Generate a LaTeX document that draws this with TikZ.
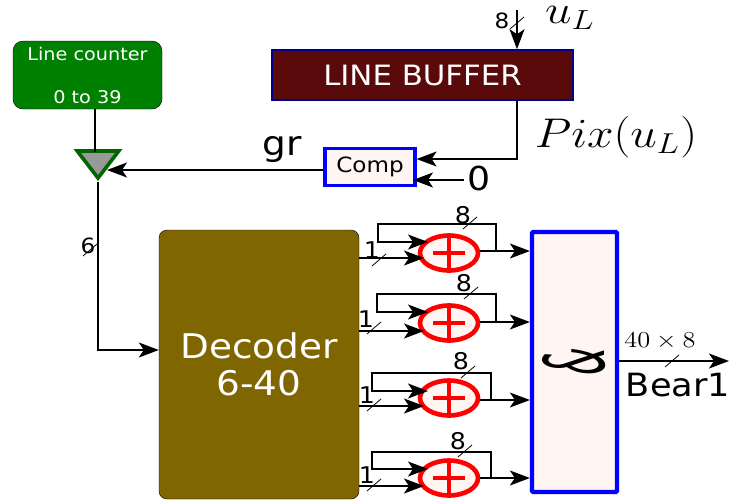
\documentclass[tikz,border=0pt]{standalone}
\usepackage{amsmath,amssymb}
\usepackage[no-math]{fontspec}
\setmainfont[FakeStretch=1.1]{DejaVu Sans}
\usepackage{tikz}
\usetikzlibrary{shapes,arrows.meta,positioning,calc}
\definecolor{bufcol}{RGB}{90,10,10}
\definecolor{deccol}{RGB}{128,102,0}
\definecolor{pinkcol}{RGB}{255,245,242}
\newcommand{\fsz}[1]{\fontsize{#1}{#1}\selectfont}
\newcommand{\slashmark}[1]{\draw[line width=0.8pt] ($(#1)+(-7,6)$) -- ($(#1)+(7,-6)$);}
\tikzset{
	sig/.style={line width=1.3pt, -{Stealth[length=20pt,width=15pt,inset=5pt]}},
	wire/.style={line width=1.3pt},
	adder/.style={ellipse, draw=red, line width=4.6pt, fill=pinkcol, minimum width=58pt, minimum height=35pt, inner sep=0pt},
	bluebox/.style={draw=blue, fill=pinkcol, inner sep=0pt}
}
\begin{document}
\begin{tikzpicture}[x=1pt,y=-1pt]
	\useasboundingbox (0,0) rectangle (732,501);
	% blocks
	\node[draw=black, fill=green!50!black, text=white, rounded corners=10pt, minimum width=149pt, minimum height=68pt, inner sep=0pt, align=center, font=\fsz{17.5}] (counter) at (87.5,75) {Line counter\\[25.5pt]0 to 39};
	\node[draw=blue!55!black, line width=1.6pt, fill=bufcol, text=white, minimum width=301pt, minimum height=50pt, inner sep=0pt, font=\fsz{28}] (buffer) at (422.5,75) {LINE BUFFER};
	\node[bluebox, line width=3.2pt, minimum width=90pt, minimum height=37pt, font=\fsz{21}] (comp) at (370,167) {Comp};
	\node[isosceles triangle, isosceles triangle apex angle=75, shape border rotate=270, draw=green!40!black, line width=3.6pt, fill=gray!80, minimum height=27pt, inner sep=0pt, anchor=apex] (mux) at (98,181) {};
	\node[draw=black, fill=deccol, text=white, rounded corners=8pt, minimum width=200pt, minimum height=269pt, inner sep=0pt, align=center, font=\fsz{34}] (decoder) at (259,364.5) {Decoder\\[3pt]6-40};
	\node[bluebox, line width=4.2pt, rounded corners=1pt, minimum width=85pt, minimum height=260pt] (concat) at (574.5,362) {\scalebox{2.2}[0.85]{\rotatebox{90}{\fsz{38}\itshape\&}}};
	% top part
	\coordinate (uin) at (517,10);
	\coordinate (cin) at (517,159);
	\coordinate (zeroin) at (413,180);
	\coordinate (muxin) at (107,170);
	\draw[sig] (uin) -- (uin |- buffer.north);
	\slashmark{517,23}
	\node (eight) at (502,21) {\fsz{21}8};
	\node (ul) at (570,18) {\scalebox{2.75}[2.3]{\fsz{17}$u_L$}};
	\draw[sig] (uin |- buffer.south) -- (cin) -- (comp.east |- cin);
	\node (pix) at (616,137) {\scalebox{2.75}[2.4]{\fsz{17}$Pix(u_L)$}};
	\node (zero) at (479,178) {\fsz{33}0};
	\draw[sig] (zero.west |- zeroin) -- (zeroin);
	\draw[sig] (comp.west |- muxin) -- (muxin);
	\node (gr) at (282,150) {\fsz{34}gr};
	\draw[wire] (95,109) -- (95,152);
	% decoder input
	\coordinate (dec) at (98,350);
	\draw[sig] (98,182) -- (dec) -- (decoder.west |- dec);
	\slashmark{90,250}
	\node (six) at (88,246) {\fsz{21}6};
	% adders
	\foreach \i/\cy/\lx/\rx/\ty/\ly/\oy/\iy/\ex/\ey/\sx/\sy/\ox/\oyy in {
		1/253/378/496/224/242/251/258/463/215/379/260/372/250,
		2/323/377/496/294/312/322/331/464/283/374/328/366/319,
		3/398/372/491/373/391/400/406/461/361/374/405/367/395,
		4/478/372/491/452/469/478/486/458/441/374/485/367/475} {
		\node[adder] (add\i) at (449,\cy) {};
		\draw[red, line width=4.5pt] (add\i.center) ++(-16,0) -- ++(32,0);
		\draw[red, line width=4.5pt] (add\i.center) ++(0,-16) -- ++(0,32);
		\coordinate (fb\i) at (\rx,\oy);
		\draw[sig] (\rx,\oy) -- (\rx,\ty) -- (\lx,\ty) -- (\lx,\ly) -- (428,\ly);
		\draw[sig] (add\i.east |- fb\i) -- (concat.west |- fb\i);
		\draw[sig] (decoder.east |- 0,\iy) -- (424,\iy);
		\node at (\ex,\ey) {\fsz{23}8};
		\slashmark{\ex+7,\ty-1}
		\node at (\ox,\oyy) {\fsz{23}1};
		\slashmark{\sx,\sy}
	}
	% output
	\coordinate (bearout) at (729,361);
	\draw[sig] (concat.east |- bearout) -- (bearout);
	\slashmark{672,361}
	\node (width) at (660,341) {\scalebox{2.2}[1.9]{\fsz{12}$40\times 8$}};
	\node (bear) at (678,385) {\fsz{32}Bear1};
\end{tikzpicture}
\end{document}
